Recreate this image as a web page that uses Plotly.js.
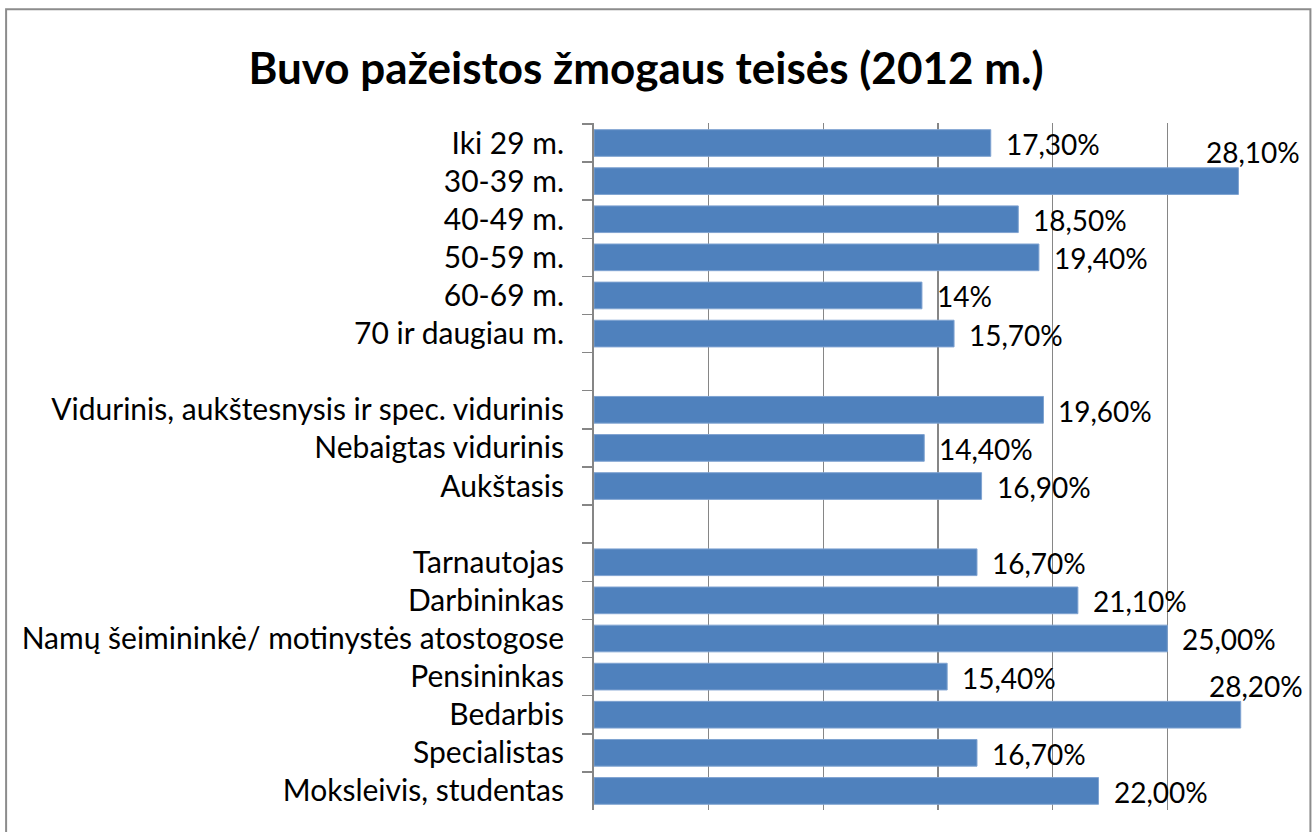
<!DOCTYPE html>
<html>
<head>
<meta charset="utf-8">
<script src="https://cdn.plot.ly/plotly-3.0.1.min.js"></script>
<style>
  html, body { margin: 0; padding: 0; background: #fff; }
  #chart { width: 1313px; height: 832px; }
</style>
</head>
<body>
<div id="chart"></div>
<script>
/* ===== Data ===== */
// blank entries (" ", "  ") are the empty rows between groups
const categories = [
  "Iki 29 m.", "30-39 m.", "40-49 m.", "50-59 m.", "60-69 m.", "70 ir daugiau m.",
  " ",
  "Vidurinis, aukštesnysis ir spec. vidurinis", "Nebaigtas vidurinis", "Aukštasis",
  "  ",
  "Tarnautojas", "Darbininkas", "Namų šeimininkė/ motinystės atostogose",
  "Pensininkas", "Bedarbis", "Specialistas", "Moksleivis, studentas"
];
const values = [
  17.3, 28.1, 18.5, 19.4, 14.3, 15.7,
  null,
  19.6, 14.4, 16.9,
  null,
  16.7, 21.1, 25.0, 15.4, 28.2, 16.7, 22.0
];
const valueLabels = [
  "17,30%", "28,10%", "18,50%", "19,40%", "14%", "15,70%",
  "",
  "19,60%", "14,40%", "16,90%",
  "",
  "16,70%", "21,10%", "25,00%", "15,40%", "28,20%", "16,70%", "22,00%"
];

const FONT = "Lato, 'Open Sans', sans-serif";
const GRID = "#868686";

/* ===== Value labels ===== */
// labels that would run past the plot edge get lifted above the bar, like Excel does
const annotations = [];
categories.forEach((c, i) => {
  if (values[i] === null) return;
  const tooLong = values[i] > 27;
  annotations.push({
    x: values[i], y: c, xref: "x", yref: "y",
    text: valueLabels[i],
    showarrow: false,
    xanchor: tooLong ? "right" : "left",
    xshift: tooLong ? 64 : 13,
    yshift: tooLong ? 29 : -1,
    font: { family: FONT, size: 28, color: "#000" }
  });
});

/* ===== Plot ===== */
const trace = {
  type: "bar",
  orientation: "h",
  x: values,
  y: categories,
  width: 0.7,
  marker: { color: "#4F81BD", line: { color: "#7FA3D1", width: 1 } },
  hoverinfo: "skip"
};

const layout = {
  width: 1313, height: 832,
  margin: { l: 594, r: 31, t: 123, b: 22 },
  paper_bgcolor: "#fff",
  plot_bgcolor: "#fff",
  showlegend: false,
  title: {
    text: "<b>Buvo pažeistos žmogaus teisės (2012 m.)</b>",
    font: { family: FONT, size: 44, color: "#000" },
    x: 0.492, xanchor: "center",
    y: 0.918, yanchor: "middle"
  },
  xaxis: {
    range: [0, 30],
    dtick: 5,
    showgrid: true, gridcolor: GRID, gridwidth: 1.5,
    showticklabels: false,
    zeroline: false,
    showline: false,
    fixedrange: true
  },
  yaxis: {
    type: "category",
    autorange: "reversed",
    tickson: "boundaries",
    ticks: "outside", ticklen: 10, tickcolor: GRID, tickwidth: 1.5,
    showline: true, linecolor: GRID, linewidth: 2,
    showgrid: false,
    ticklabelstandoff: 22,
    tickfont: { family: FONT, size: 30, color: "#000" },
    fixedrange: true
  },
  annotations: annotations,
  shapes: [{
    type: "rect", xref: "paper", yref: "paper",
    x0: -0.8545, x1: 1.0413, y0: -0.2, y1: 1.1655,
    line: { color: "#8c8c8c", width: 2 }, layer: "below"
  }]
};

Plotly.newPlot("chart", [trace], layout, { displayModeBar: false, staticPlot: true });
</script>
</body>
</html>
